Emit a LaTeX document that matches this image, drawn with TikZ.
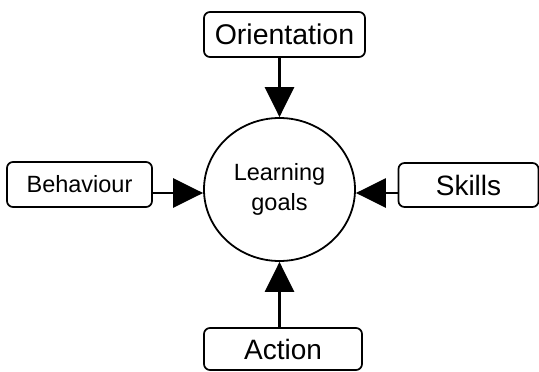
\documentclass[tikz,border=0pt]{standalone}
\usepackage{fontspec}
\setmainfont{Liberation Sans}
\usetikzlibrary{arrows.meta,shapes,positioning}
\tikzset{>={Triangle[length=30pt,width=29pt]},
  factor/.style={draw,line width=1.7pt,rounded corners=6pt,inner sep=0pt},
  goal/.style={draw,ellipse,line width=1.8pt,inner sep=0pt,align=center,
    minimum width=151pt,minimum height=143pt},
  link/.style={line width=2.5pt,->}}

\begin{document}
\begin{tikzpicture}[x=1pt,y=-1pt]
  \useasboundingbox (0,0) rectangle (539,372);

  \node [goal,font=\fontsize{23.5}{30}\selectfont] (lg) at (279.5,189.5) {Learning\\goals};

  \node [factor,minimum width=161pt,minimum height=45pt,font=\fontsize{28.5}{30}\selectfont] (orient) at (284.5,34.5) {Orientation};
  \node [factor,minimum width=145pt,minimum height=45pt,font=\fontsize{23.5}{30}\selectfont] (behav) at (79.5,184.5) {Behaviour};
  \node [factor,minimum width=140pt,minimum height=44pt,font=\fontsize{28}{30}\selectfont] (skills) at (468.5,185) {Skills};
  \node [factor,minimum width=158pt,minimum height=42pt,font=\fontsize{28}{30}\selectfont] (action) at (283,349) {Action};

  \coordinate (lgw) at ([yshift=-3.5pt]lg.west);
  \coordinate (lge) at ([yshift=-3.5pt]lg.east);

  \draw [link] (orient.south -| lg.north) -- (lg.north);
  \draw [link] (behav.east |- lgw) -- (lgw);
  \draw [link] (skills.west |- lge) -- (lge);
  \draw [link] (action.north -| lg.south) -- (lg.south);

\end{tikzpicture}
\end{document}
